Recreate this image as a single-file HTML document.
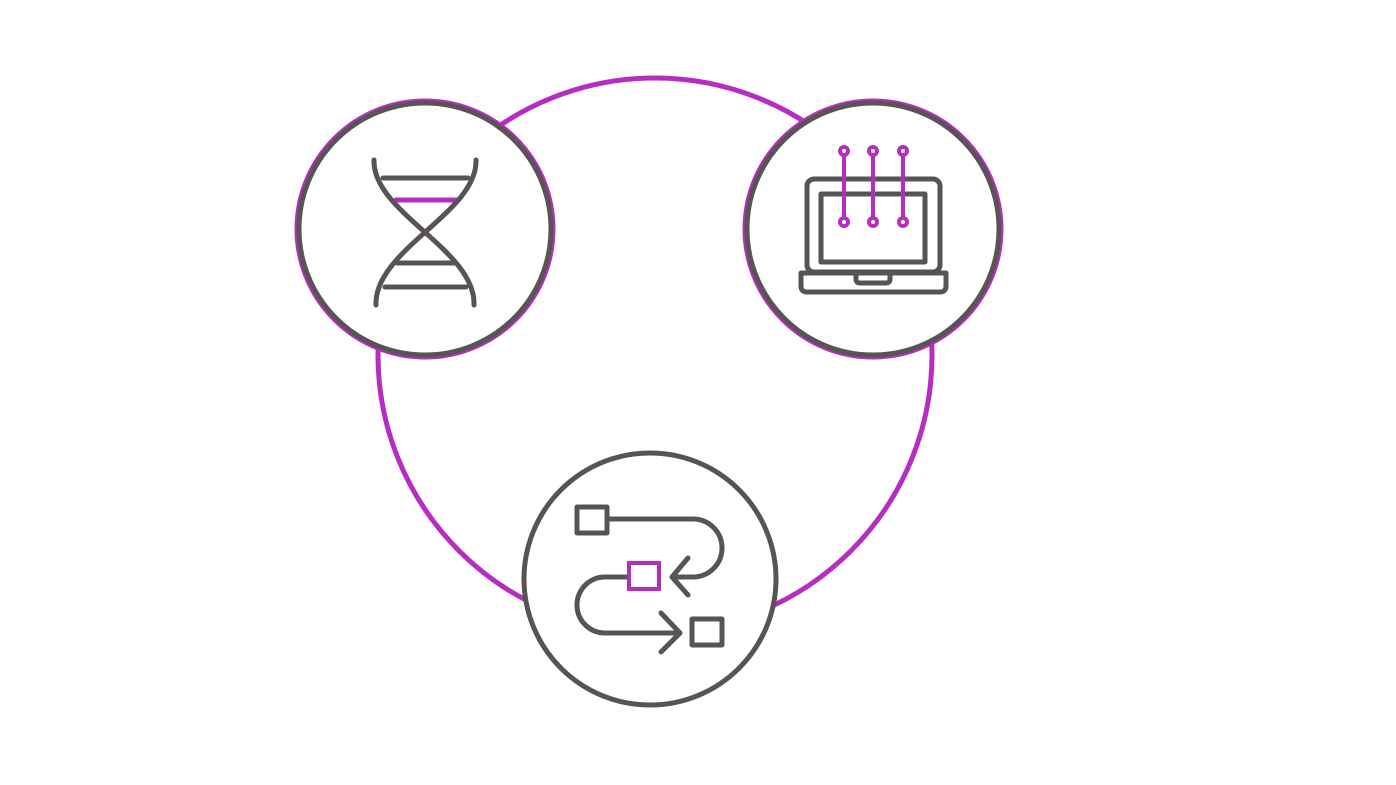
<!DOCTYPE html>
<html><head><meta charset="utf-8"><style>html,body{margin:0;padding:0;background:#fff}svg{display:block}</style></head>
<body>
<svg width="1396" height="785" viewBox="0 0 1396 785" xmlns="http://www.w3.org/2000/svg">
<rect width="1396" height="785" fill="#fff"/>
<circle cx="655" cy="355" r="277" fill="none" stroke="#b52ec0" stroke-width="5"/>
<g fill="#fff">
<circle cx="425" cy="229" r="129" stroke="#b52ec0" stroke-width="3"/>
<circle cx="873" cy="229" r="129" stroke="#b52ec0" stroke-width="3"/>
</g>
<g fill="#fff" stroke="#585354" stroke-width="5">
<circle cx="425" cy="229" r="126"/>
<circle cx="873" cy="229" r="126"/>
<circle cx="650" cy="579" r="126"/>
</g>
<!-- DNA -->
<g fill="none" stroke="#585354" stroke-width="5" stroke-linecap="round">
<line x1="383" y1="178" x2="468" y2="178"/>
<line x1="397" y1="263" x2="455" y2="263"/>
<line x1="385" y1="287" x2="466" y2="287"/>
<line x1="396" y1="200" x2="458" y2="200" stroke="#b52ec0"/>
<path d="M374,160 C372,212 476,250 474,305"/>
<path d="M476,160 C478,212 374,250 376,305"/>
</g>
<!-- Laptop -->
<g fill="none" stroke="#585354" stroke-width="5" stroke-linejoin="round">
<rect x="807" y="179" width="133" height="93" rx="7"/>
<rect x="821" y="194" width="104" height="68"/>
<path d="M801,273 H946 V286 Q946,292 940,292 H807 Q801,292 801,286 Z"/>
<path d="M856,273 V279 Q856,283 860,283 H886 Q890,283 890,279 V273"/>
</g>
<g fill="#fff" stroke="#b52ec0" stroke-width="4">
<line x1="844" y1="155" x2="844" y2="218"/>
<line x1="873" y1="155" x2="873" y2="218"/>
<line x1="903" y1="155" x2="903" y2="218"/>
<circle cx="844" cy="151" r="4"/><circle cx="873" cy="151" r="4"/><circle cx="903" cy="151" r="4"/>
<circle cx="844" cy="222" r="4"/><circle cx="873" cy="222" r="4"/><circle cx="903" cy="222" r="4"/>
</g>
<!-- Flow -->
<g fill="none" stroke="#585354" stroke-width="5" stroke-linecap="round" stroke-linejoin="round">
<rect x="577" y="507" width="30" height="26"/>
<rect x="692" y="619" width="30" height="26"/>
<path d="M607,519 H693 A29,29 0 0 1 693,577 H673"/>
<path d="M688,558 L672,577 L688,595"/>
<path d="M628,577 H605 A28,28 0 0 0 605,633 H679"/>
<path d="M661,613 L680,633 L661,652"/>
</g>
<rect x="629" y="563" width="30" height="26" fill="none" stroke="#b52ec0" stroke-width="4"/>
</svg>
</body></html>
